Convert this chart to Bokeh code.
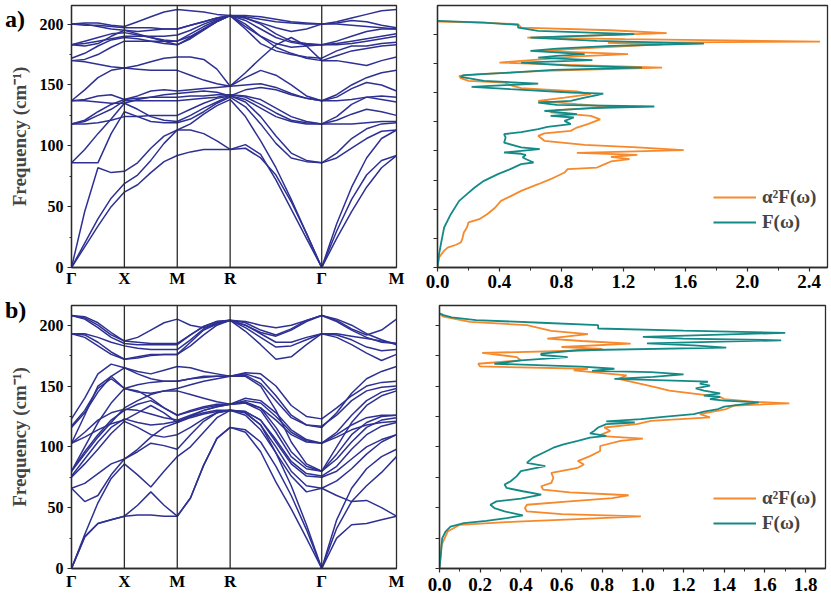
from bokeh.plotting import figure
from bokeh.layouts import column, row
from bokeh.models import FixedTicker, Span, Legend, LegendItem, Range1d, NumeralTickFormatter, Div
from bokeh.embed import file_html
from bokeh.resources import INLINE

FONT = "Liberation Serif"
BAND_COLOR = "#2E3192"
ORANGE = "#F6892B"
TEAL = "#148A87"
FRAME = "#2b2b2b"

# high-symmetry path (cubic): G-X-M-R-G-M
K_NODES = [0.0, 1.0, 2.0, 3.0, 4.732, 6.146]
K_LABELS = ["Γ", "X", "M", "R", "Γ", "M"]
K_SAMPLES = [0, 0.25, 0.5, 0.75, 1.0, 1.25, 1.5, 1.75, 2.0, 2.25, 2.5, 2.75, 3.0,
             3.289, 3.577, 3.866, 4.155, 4.443, 4.732, 5.015, 5.297, 5.580, 5.863, 6.146]
FREQ_TICKS = [0, 50, 100, 150, 200]
FREQ_MINOR = [25, 75, 125, 175]

# panel a) phonon branches (cm^-1) at K_SAMPLES
BANDS_A = [
    [0, 17, 34, 50, 62, 68, 78, 87, 92, 95, 97, 97, 97, 101, 93, 72, 48, 24, 0, 24, 46, 66, 82, 92],
    [0, 20, 40, 57, 69, 76, 88, 102, 113, 113, 110, 104, 97, 98, 90, 76, 54, 28, 0, 30, 56, 76, 88, 92],
    [0, 46, 82, 78, 79, 86, 98, 108, 113, 118, 126, 133, 138, 124, 104, 82, 56, 28, 0, 36, 66, 90, 106, 113],
    [86, 86, 86, 110, 128, 124, 120, 119, 119, 122, 128, 135, 140, 132, 118, 102, 90, 87, 86, 90, 98, 106, 112, 113],
    [86, 97, 110, 122, 135, 130, 124, 121, 120, 125, 131, 136, 141, 136, 124, 108, 94, 88, 86, 94, 106, 114, 118, 119],
    [118, 118, 119, 121, 124, 124, 125, 125, 125, 130, 135, 139, 141, 138, 131, 124, 120, 118, 118, 118, 118, 119, 120, 120],
    [118, 120, 125, 130, 137, 137, 137, 137, 137, 138, 139, 140, 142, 140, 134, 127, 121, 119, 118, 121, 126, 130, 128, 125],
    [118, 121, 128, 134, 138, 139, 140, 140, 140, 141, 141, 142, 142, 141, 138, 131, 124, 120, 118, 124, 134, 140, 138, 136],
    [137, 137, 136, 135, 135, 138, 140, 142, 143, 144, 145, 144, 141, 146, 148, 146, 142, 139, 137, 137, 138, 140, 141, 140],
    [137, 138, 141, 142, 138, 141, 145, 146, 145, 146, 147, 148, 149, 156, 162, 158, 150, 141, 137, 140, 147, 152, 150, 145],
    [137, 146, 156, 162, 164, 163, 162, 162, 162, 158, 154, 151, 149, 150, 151, 148, 143, 139, 137, 142, 150, 156, 160, 162],
    [170, 169, 167, 165, 164, 166, 169, 172, 173, 173, 171, 163, 149, 160, 172, 183, 189, 182, 170, 170, 168, 166, 170, 173],
    [170, 171, 175, 181, 186, 186, 186, 186, 186, 190, 196, 202, 207, 200, 190, 181, 176, 172, 170, 174, 178, 180, 182, 183],
    [172, 176, 182, 187, 189, 188, 186, 184, 183, 188, 195, 202, 207, 196, 184, 178, 175, 173, 172, 178, 182, 182, 184, 185],
    [183, 184, 186, 188, 190, 190, 190, 190, 191, 195, 200, 204, 207, 203, 196, 189, 185, 183, 183, 183, 184, 186, 188, 190],
    [183, 186, 189, 192, 193, 191, 189, 187, 186, 192, 198, 203, 207, 205, 200, 192, 186, 184, 183, 184, 186, 188, 190, 192],
    [183, 182, 184, 190, 195, 192, 189, 186, 183, 189, 196, 202, 207, 198, 190, 184, 181, 182, 183, 186, 190, 194, 196, 196],
    [200, 200, 198, 196, 195, 194, 195, 196, 196, 199, 202, 205, 207, 205, 201, 197, 194, 196, 200, 200, 199, 198, 197, 196],
    [200, 199, 199, 198, 197, 197, 197, 196, 196, 199, 202, 205, 207, 206, 204, 202, 201, 200, 200, 201, 203, 202, 199, 197],
    [200, 201, 201, 199, 198, 202, 206, 210, 212, 211, 210, 208, 207, 207, 206, 204, 202, 201, 200, 202, 205, 208, 211, 212],
]

# panel b) phonon branches (cm^-1) at K_SAMPLES
BANDS_B = [
    [0, 26, 37, 40, 43, 44, 44, 43, 43, 58, 85, 107, 116, 112, 96, 71, 49, 25, 0, 25, 36, 37, 40, 43],
    [0, 26, 37, 40, 43, 52, 63, 52, 43, 58, 85, 107, 116, 114, 104, 84, 60, 32, 0, 33, 55, 68, 79, 92],
    [0, 28, 54, 74, 86, 77, 67, 80, 92, 100, 112, 124, 130, 128, 118, 95, 68, 36, 0, 40, 66, 82, 92, 98],
    [66, 55, 60, 77, 90, 96, 103, 101, 98, 110, 121, 128, 130, 126, 114, 95, 76, 63, 66, 60, 55, 56, 50, 43],
    [66, 70, 78, 86, 90, 98, 108, 116, 120, 124, 127, 129, 130, 128, 118, 100, 80, 68, 66, 72, 82, 94, 104, 110],
    [75, 86, 98, 111, 121, 116, 110, 108, 110, 116, 123, 128, 130, 129, 122, 104, 86, 76, 75, 80, 90, 100, 106, 110],
    [76, 90, 104, 116, 123, 120, 118, 119, 121, 125, 128, 130, 130, 129, 122, 106, 88, 78, 76, 84, 98, 110, 117, 120],
    [80, 96, 110, 122, 130, 135, 138, 132, 126, 129, 132, 134, 135, 136, 130, 112, 92, 82, 80, 90, 104, 116, 122, 124],
    [80, 94, 108, 120, 132, 138, 143, 146, 146, 143, 140, 137, 135, 137, 132, 116, 96, 84, 80, 94, 110, 120, 125, 126],
    [80, 100, 120, 136, 148, 151, 153, 154, 154, 156, 157, 158, 158, 158, 150, 130, 104, 86, 80, 100, 120, 134, 142, 146],
    [103, 126, 150, 158, 148, 146, 140, 132, 126, 130, 133, 135, 135, 138, 136, 125, 112, 105, 103, 112, 126, 138, 145, 148],
    [103, 112, 122, 128, 131, 130, 127, 124, 122, 126, 130, 133, 135, 140, 138, 128, 114, 106, 103, 108, 114, 118, 120, 121],
    [103, 108, 114, 119, 122, 128, 134, 128, 120, 125, 130, 133, 135, 136, 132, 122, 110, 104, 103, 110, 118, 124, 126, 126],
    [116, 128, 145, 158, 165, 162, 160, 163, 166, 165, 162, 160, 158, 160, 156, 142, 126, 118, 116, 128, 144, 156, 162, 166],
    [123, 140, 160, 168, 165, 160, 156, 154, 154, 156, 158, 158, 158, 161, 160, 150, 134, 125, 123, 132, 142, 150, 153, 154],
    [117, 130, 148, 156, 148, 145, 144, 146, 148, 151, 154, 156, 158, 159, 152, 138, 124, 118, 117, 126, 138, 146, 149, 150],
    [193, 190, 183, 176, 172, 174, 176, 176, 176, 183, 192, 200, 204, 195, 184, 172, 174, 184, 193, 190, 184, 177, 171, 176],
    [193, 192, 186, 178, 172, 173, 175, 176, 176, 186, 196, 201, 204, 198, 190, 182, 183, 188, 193, 192, 188, 182, 179, 180],
    [193, 193, 190, 186, 183, 181, 180, 180, 180, 188, 197, 202, 204, 200, 193, 186, 186, 190, 193, 193, 191, 189, 187, 185],
    [208, 205, 198, 190, 185, 184, 184, 184, 184, 192, 199, 203, 204, 200, 194, 191, 196, 203, 208, 203, 196, 190, 186, 185],
    [208, 206, 200, 192, 187, 190, 196, 202, 205, 200, 198, 201, 204, 202, 196, 192, 197, 204, 208, 204, 197, 192, 196, 205],
    [208, 207, 202, 194, 187, 186, 185, 185, 185, 192, 199, 203, 204, 203, 200, 198, 200, 204, 208, 205, 200, 193, 188, 184],
]

# panel a) spectral functions
A_F_FREQ = [0, 11.4, 22.9, 34.3, 45.7, 57.1, 62.9, 68.6, 74.3, 80, 84.3, 88.6, 90, 93, 94.3, 96.6, 97.5, 98.6,
            101.4, 103, 107, 111.4, 114.3, 116, 118.6, 120.6, 122.9, 125.7, 128.6, 130, 131.4, 134.3, 136.6,
            138, 139.4, 141.4, 142.9, 145.7, 147.7, 149, 150, 152.9, 154.9, 157.7, 160, 163.4, 165, 167,
            169.4, 171.4, 173, 175.7, 177.7, 180, 181.4, 182.9, 185.7, 187.7, 190, 192, 194.3, 197, 200,
            202.9, 205.7, 208, 210, 211.4]
A_F_DOS = [0, 0.01, 0.026, 0.043, 0.086, 0.14, 0.19, 0.24, 0.30, 0.39, 0.47, 0.54, 0.62, 0.57, 0.55, 0.57, 0.54, 0.43,
           0.66, 0.54, 0.43, 0.44, 0.43, 0.54, 0.65, 0.71, 0.86, 0.82, 0.88, 0.73, 0.90, 0.69, 1.0,
           1.40, 0.77, 0.65, 0.86, 0.95, 1.03, 1.07, 0.86, 0.47, 0.22, 0.65, 0.30, 0.15, 0.17, 0.47,
           0.75, 1.32, 0.85, 0.54, 1.0, 0.65, 0.77, 0.95, 0.60, 0.77, 1.12, 1.72, 1.03, 0.60, 1.27,
           0.65, 0.52, 0.52, 0.30, 0.0]
A_A2F_FREQ = [0, 8.6, 14, 17, 19.5, 21.4, 24.3, 30, 34.3, 38.6, 41.4, 45.7, 51, 57.1, 61, 65.7, 71.4, 75.7, 81.4,
              84.3, 85.7, 88.6, 90.9, 92.9, 94.9, 96.6, 98.3, 100.6, 102.9, 105.1, 108.6, 112.9, 114.9, 117.1,
              120, 122.9, 127, 130, 132.9, 134.9, 137.7, 140, 142.9, 145.7, 148.6, 150.9, 153.7, 156, 158.6,
              160, 162.3, 164.3, 166, 168.6, 171.4, 174.3, 175.7, 178.6, 181, 182.9, 185.7, 188.6, 191.4,
              192.5, 193.7, 195.7, 197.1, 200.9, 203.4, 205.7, 208.6, 210, 210.9]
A_A2F_VAL = [0, 0.01, 0.04, 0.065, 0.12, 0.15, 0.16, 0.17, 0.19, 0.20, 0.27, 0.32, 0.37, 0.41, 0.47, 0.54, 0.65, 0.73, 0.82,
             0.84, 1.03, 1.08, 1.12, 1.24, 1.12, 1.29, 0.90, 1.59, 1.29, 0.95, 0.69, 0.65, 0.69, 0.86,
             0.90, 0.97, 1.05, 0.99, 0.73, 0.77, 1.12, 0.90, 0.65, 0.82, 0.99, 0.90, 0.54, 0.48, 0.43,
             0.20, 0.15, 0.14, 0.30, 0.69, 1.45, 0.69, 0.40, 0.69, 0.90, 1.23, 0.67, 1.03, 1.45,
             1.10, 2.47, 1.21, 0.58, 1.48, 1.12, 0.54, 0.52, 0.30, 0.0]

# panel b) spectral functions
B_F_FREQ = [0, 13.8, 24.8, 30.4, 34.5, 37.3, 39.2, 41.4, 43.6, 46.9, 49.7, 52.4, 55.2, 57.4, 60.7, 63.5, 66.2, 69,
            71.7, 75.9, 80, 84.2, 86.9, 91.1, 95.2, 99.3, 102.1, 104.9, 107.6, 109, 111, 113.1, 115.9, 118.7,
            120, 121, 122.8, 124.7, 126.9, 129, 131.1, 133, 135.2, 136.6, 138, 139.3, 141, 142.1, 144, 146.2,
            148, 150.4, 152, 153.7, 155.9, 157.5, 159.5, 161.4, 162.5, 164.2, 166, 168.3, 171.1, 173.8, 175.5,
            176.6, 179.4, 181.6, 183.5, 185, 187.6, 189, 190.4, 193.7, 195.5, 197.3, 200, 202, 204.2, 206.5,
            208.3, 209.7]
B_F_DOS = [0, 0.008, 0.013, 0.03, 0.054, 0.12, 0.23, 0.33, 0.41, 0.32, 0.27, 0.25, 0.28, 0.40, 0.50, 0.41, 0.33, 0.32,
           0.35, 0.38, 0.40, 0.52, 0.43, 0.46, 0.51, 0.56, 0.61, 0.68, 0.74, 0.82, 0.74, 0.76, 0.78, 0.82,
           0.96, 0.82, 0.99, 1.10, 1.25, 1.30, 1.37, 1.40, 1.50, 1.57, 1.40, 1.33, 1.38, 1.30, 1.38, 1.30,
           1.26, 1.33, 1.28, 1.32, 0.86, 1.05, 1.20, 1.04, 0.75, 0.86, 0.70, 0.27, 0.40, 0.63, 0.50,
           0.50, 0.68, 1.41, 1.25, 1.02, 1.68, 1.20, 1.00, 1.70, 1.20, 0.78, 0.78, 0.50, 0.18, 0.06,
           0.02, 0]
B_A2F_FREQ = [0, 19.3, 30.4, 35.9, 38.6, 40.6, 42.8, 44.7, 46.9, 49.7, 52.4, 55.2, 57.9, 60.2, 62.6, 64.8, 67.6,
              70.4, 74.5, 78.6, 82.8, 85.5, 88.3, 92.4, 96.6, 100.7, 104.9, 106.8, 109, 113.1, 115.9, 118.7,
              121.4, 124.2, 126.9, 131.1, 134, 135.8, 137, 139.3, 141, 143.5, 146.2, 149, 151.8, 155.9, 158.7,
              162.8, 164.2, 166.1, 168.3, 171.1, 173.8, 177.2, 179.4, 180.5, 182.1, 184.9, 187, 189, 192.6,
              195.4, 200, 202.8, 207, 209.2]
B_A2F_VAL = [0, 0.01, 0.04, 0.10, 0.38, 0.68, 0.99, 0.60, 0.43, 0.42, 0.43, 0.64, 0.85, 0.93, 0.64, 0.51, 0.50,
             0.55, 0.56, 0.55, 0.68, 0.71, 0.68, 0.74, 0.79, 0.79, 0.89, 1.00, 0.78, 0.84, 0.81, 0.97,
             1.04, 1.33, 1.28, 1.41, 1.45, 1.72, 1.55, 1.40, 1.38, 1.26, 1.13, 1.06, 0.99, 0.88, 0.92,
             0.66, 0.73, 0.20, 0.19, 0.40, 0.38, 0.21, 0.74, 0.80, 0.60, 0.94, 0.70, 0.53, 0.73,
             0.55, 0.43, 0.15, 0.02, 0]

DOS_TICKS_A = [0.0, 0.4, 0.8, 1.2, 1.6, 2.0, 2.4]
DOS_MINOR_A = [0.2, 0.6, 1.0, 1.4, 1.8, 2.2]
DOS_TICKS_B = [0.0, 0.2, 0.4, 0.6, 0.8, 1.0, 1.2, 1.4, 1.6, 1.8]
DOS_MINOR_B = [0.1, 0.3, 0.5, 0.7, 0.9, 1.1, 1.3, 1.5, 1.7]
LEGEND_LABELS = ["α²F(ω)", "F(ω)"]
PANEL_TAGS = ["a)", "b)"]


def base_fig(width, height, xr, yr, left, right, top, bottom):
    p = figure(width=width, height=height, x_range=Range1d(*xr), y_range=Range1d(*yr),
               output_backend="svg", toolbar_location=None,
               min_border_left=left, min_border_right=right,
               min_border_top=top, min_border_bottom=bottom)
    p.grid.visible = False
    p.outline_line_color = FRAME
    p.outline_line_width = 1.3
    p.outline_line_alpha = 1.0
    p.background_fill_color = "white"
    p.border_fill_color = "white"
    for ax in (p.xaxis[0], p.yaxis[0]):
        ax.axis_line_color = FRAME
        ax.axis_line_width = 1.3
        ax.major_tick_line_color = FRAME
        ax.minor_tick_line_color = FRAME
        ax.major_tick_line_width = 1.2
        ax.minor_tick_line_width = 1.0
        ax.major_tick_in = 0
        ax.minor_tick_in = 0
        ax.major_label_text_font = FONT
        ax.major_label_text_font_style = "bold"
        ax.major_label_text_color = "black"
    return p


def band_fig(bands, ymax, height, top, bottom, xstand):
    p = base_fig(416, height, (0, K_NODES[-1]), (0, ymax), 71, 20, top, bottom)
    p.yaxis.ticker = FixedTicker(ticks=FREQ_TICKS, minor_ticks=FREQ_MINOR)
    p.yaxis.major_tick_out = 4
    p.yaxis.minor_tick_out = 2
    p.yaxis.major_label_text_font_size = "16px"
    p.yaxis.major_label_standoff = 4
    p.yaxis.axis_label = "Frequency (cm⁻¹)"
    p.yaxis.axis_label_text_font = FONT
    p.yaxis.axis_label_text_font_style = "bold"
    p.yaxis.axis_label_text_font_size = "19px"
    p.yaxis.axis_label_standoff = 7
    p.xaxis.ticker = FixedTicker(ticks=K_NODES, minor_ticks=[])
    p.xaxis.major_label_overrides = {k: lab for k, lab in zip(K_NODES, K_LABELS)}
    p.xaxis.major_tick_out = 0
    p.xaxis.minor_tick_out = 0
    p.xaxis.major_label_text_font_size = "17px"
    p.xaxis.major_label_standoff = xstand
    for k in K_NODES[1:-1]:
        p.add_layout(Span(location=k, dimension="height", line_color=FRAME, line_width=1.3))
    p.multi_line(xs=[K_SAMPLES] * len(bands), ys=bands, line_color=BAND_COLOR, line_width=1.5)
    return p


def dos_fig(f_freq, f_dos, a_freq, a_val, xmax, ymax, height, left, right, top, bottom,
            ticks, minor, leg_loc, xstand):
    p = base_fig(415, height, (0, xmax), (0, ymax), left, right, top, bottom)
    p.yaxis.ticker = FixedTicker(ticks=FREQ_TICKS, minor_ticks=FREQ_MINOR)
    p.yaxis.major_label_overrides = {t: "" for t in FREQ_TICKS}
    p.yaxis.major_tick_out = 4
    p.yaxis.minor_tick_out = 4
    p.yaxis.major_label_standoff = 0
    p.xaxis.ticker = FixedTicker(ticks=ticks, minor_ticks=minor)
    p.xaxis.formatter = NumeralTickFormatter(format="0.0")
    p.xaxis.major_tick_out = 4
    p.xaxis.minor_tick_out = 3
    p.xaxis.major_label_text_font_size = "19px"
    p.xaxis.major_label_standoff = xstand
    r_a = p.line(a_val, a_freq, line_color=ORANGE, line_width=1.8)
    r_f = p.line(f_dos, f_freq, line_color=TEAL, line_width=1.8)
    leg = Legend(items=[LegendItem(label=LEGEND_LABELS[0], renderers=[r_a]),
                        LegendItem(label=LEGEND_LABELS[1], renderers=[r_f])],
                 location=leg_loc, padding=0, margin=0, spacing=3,
                 glyph_width=43, glyph_height=20, label_height=20, label_standoff=6,
                 border_line_color=None, background_fill_alpha=0,
                 label_text_font=FONT, label_text_font_style="bold", label_text_font_size="19px")
    p.add_layout(leg)
    return p


def tag_div(text, top):
    return Div(text=text, width=30, height=26,
               styles={"position": "absolute", "left": "0px", "top": f"{top}px",
                       "font-family": FONT, "font-size": "24px", "font-weight": "bold",
                       "line-height": "1", "color": "black"})


# top row: frames y 5..267 ; bottom row: frames y 305..568
pa = band_fig(BANDS_A, 215.3, 297, 5, 30, 1)
pa_dos = dos_fig(A_F_FREQ, A_F_DOS, A_A2F_FREQ, A_A2F_VAL, 2.518, 224.6, 297, 21, 4, 5, 30,
                 DOS_TICKS_A, DOS_MINOR_A, (276, 34), 3)
pb = band_fig(BANDS_B, 216.2, 301, 8, 30, 3)
pb_dos = dos_fig(B_F_FREQ, B_F_DOS, B_A2F_FREQ, B_A2F_VAL, 1.898, 216.2, 301, 23, 6, 8, 30,
                 DOS_TICKS_B, DOS_MINOR_B, (274, 34), 5)

layout = column(row(pa, pa_dos), row(pb, pb_dos), tag_div(PANEL_TAGS[0], 2), tag_div(PANEL_TAGS[1], 293))
open("out.html", "w").write(file_html(layout, INLINE))
